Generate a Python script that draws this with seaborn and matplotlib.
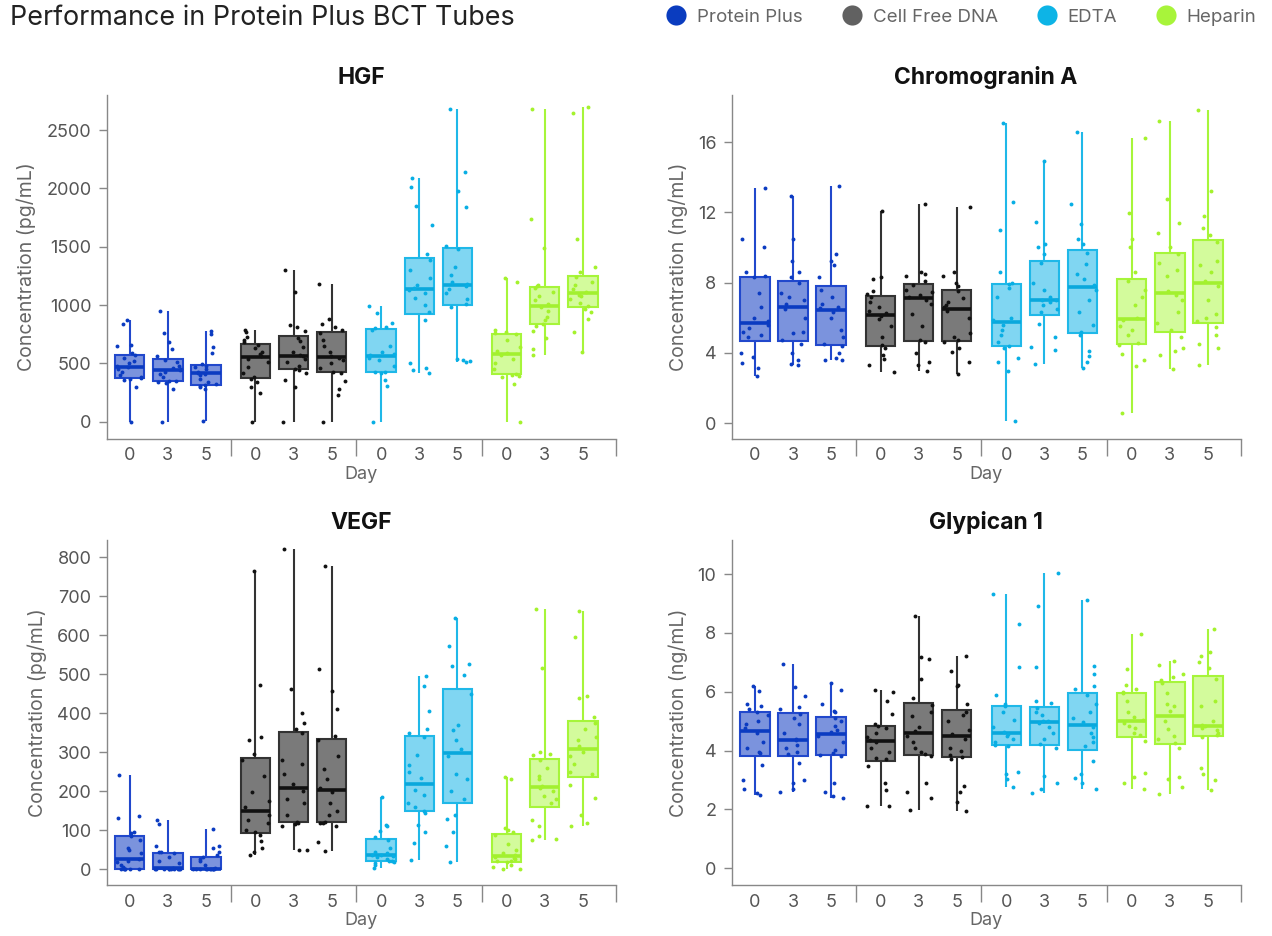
import numpy as np
import pandas as pd
import matplotlib.pyplot as plt
from matplotlib.lines import Line2D
import seaborn as sns

TUBES = ['Protein Plus', 'Cell Free DNA', 'EDTA', 'Heparin']
DAYS = ['0', '3', '5']

# values per tube: one list per day (0, 3, 5)
HGF_PROTEIN_PLUS = [
    [0, 300, 360, 370, 375, 380, 400, 430, 450, 465, 480, 500, 520, 545, 570, 590, 650, 660, 840, 870],
    [0, 280, 330, 340, 345, 348, 380, 410, 430, 440, 448, 460, 480, 510, 530, 560, 620, 680, 760, 950],
    [10, 280, 300, 310, 315, 320, 340, 370, 400, 410, 420, 430, 450, 470, 480, 495, 590, 640, 750, 780],
]
HGF_CELL_FREE = [
    [0, 250, 300, 340, 370, 380, 420, 470, 510, 540, 565, 580, 600, 630, 660, 680, 700, 730, 770, 790],
    [0, 300, 360, 420, 440, 455, 480, 510, 540, 560, 572, 600, 640, 690, 720, 780, 810, 830, 1110, 1300],
    [0, 230, 280, 350, 420, 428, 460, 500, 530, 545, 560, 600, 650, 700, 760, 790, 810, 840, 880, 1180],
]
HGF_EDTA = [
    [0, 310, 360, 420, 425, 430, 480, 530, 550, 560, 572, 580, 600, 650, 790, 805, 810, 850, 930, 990],
    [418, 440, 460, 500, 870, 940, 1000, 1060, 1100, 1130, 1150, 1170, 1230, 1300, 1390, 1440, 1690, 1850, 2010, 2090],
    [509, 520, 530, 540, 980, 1010, 1050, 1100, 1140, 1160, 1178, 1200, 1260, 1330, 1480, 1510, 1840, 1980, 2140, 2678],
]
HGF_HEPARIN = [
    [0, 320, 380, 395, 400, 410, 450, 500, 540, 570, 585, 610, 640, 700, 750, 760, 770, 790, 1200, 1230],
    [571, 620, 720, 780, 820, 840, 870, 900, 950, 980, 1010, 1040, 1080, 1110, 1150, 1160, 1170, 1490, 1740, 2678],
    [600, 770, 880, 940, 970, 990, 1020, 1050, 1080, 1090, 1110, 1140, 1170, 1200, 1240, 1280, 1330, 1570, 2650, 2700],
]

CHGA_PROTEIN_PLUS = [
    [2.65, 3.12, 3.4, 3.75, 3.98, 4.9, 5.0, 5.2, 5.4, 5.6, 5.8, 6.0, 6.6, 7.4, 8.3, 8.4, 8.6, 10.0, 10.5, 13.4],
    [3.3, 3.35, 3.6, 3.98, 4.5, 4.75, 5.1, 5.2, 5.98, 6.5, 6.75, 7.0, 7.2, 7.4, 8.0, 8.3, 8.6, 9.2, 10.46, 12.9],
    [3.56, 3.6, 3.7, 4.0, 4.36, 4.5, 4.9, 5.3, 6.0, 6.3, 6.55, 6.6, 6.8, 7.2, 7.6, 8.3, 9.0, 9.2, 9.6, 13.5],
]
CHGA_CELL_FREE = [
    [2.9, 3.3, 3.67, 3.9, 4.3, 4.42, 4.9, 5.5, 5.9, 6.1, 6.25, 6.4, 6.6, 6.9, 7.2, 7.35, 7.5, 8.2, 8.3, 12.1],
    [2.99, 3.3, 3.5, 4.0, 4.6, 4.72, 5.5, 6.2, 6.8, 7.0, 7.2, 7.3, 7.45, 7.6, 7.85, 8.1, 8.4, 8.5, 8.6, 12.5],
    [2.78, 3.47, 4.06, 4.3, 4.6, 4.72, 4.9, 5.1, 6.0, 6.4, 6.58, 6.7, 6.9, 7.1, 7.5, 7.8, 8.0, 8.4, 8.6, 12.3],
]
CHGA_EDTA = [
    [0.13, 2.95, 3.5, 3.7, 4.3, 4.4, 4.6, 5.0, 5.3, 5.6, 5.85, 6.0, 7.2, 7.7, 7.9, 8.0, 8.6, 10.97, 12.57, 17.1],
    [3.37, 4.13, 4.32, 4.91, 5.64, 6.3, 6.5, 6.7, 6.9, 7.0, 7.03, 7.2, 7.6, 8.0, 9.1, 9.6, 10.0, 10.17, 11.47, 14.9],
    [3.12, 3.47, 3.8, 4.08, 5.0, 5.2, 5.6, 6.3, 7.0, 7.6, 7.85, 8.2, 8.5, 9.03, 9.7, 10.2, 10.5, 11.31, 12.5, 16.55],
]
CHGA_HEPARIN = [
    [0.59, 3.27, 3.6, 3.92, 4.45, 4.53, 5.0, 5.3, 5.54, 5.85, 6.0, 6.74, 7.2, 7.6, 8.1, 8.6, 10.0, 10.46, 11.94, 16.21],
    [3.09, 3.9, 4.1, 4.27, 4.9, 5.27, 5.7, 6.3, 7.0, 7.3, 7.52, 8.36, 8.7, 9.1, 9.6, 10.0, 10.84, 11.41, 12.74, 17.2],
    [3.31, 4.25, 4.5, 5.0, 5.45, 5.8, 6.0, 6.21, 7.0, 7.8, 8.1, 8.6, 9.0, 9.22, 10.3, 10.7, 11.12, 11.77, 13.2, 17.8],
]

VEGF_PROTEIN_PLUS = [
    [0, 0, 0, 0, 0, 0, 5, 10, 18, 22, 26, 40, 48, 55, 75, 85, 92, 95, 130, 137, 242],
    [0, 0, 0, 0, 0, 0, 0, 0, 0, 0, 3, 15, 20, 30, 40, 43, 45, 60, 116, 125],
    [0, 0, 0, 0, 0, 0, 0, 0, 0, 0, 2, 10, 20, 25, 30, 35, 44, 55, 60, 102],
]
VEGF_CELL_FREE = [
    [36, 45, 55, 72, 88, 95, 100, 118, 125, 140, 160, 175, 198, 240, 280, 295, 330, 338, 472, 765],
    [48, 50, 110, 115, 118, 121, 140, 170, 180, 200, 218, 243, 270, 280, 350, 360, 375, 400, 463, 822],
    [47, 70, 110, 117, 118, 120, 140, 150, 170, 198, 208, 230, 256, 290, 330, 342, 410, 458, 513, 777],
]
VEGF_EDTA = [
    [2, 10, 15, 18, 20, 22, 25, 30, 33, 35, 37, 40, 45, 55, 75, 83, 98, 110, 114, 185],
    [23, 68, 95, 113, 145, 150, 160, 169, 190, 203, 233, 250, 267, 292, 340, 350, 360, 406, 469, 496],
    [18, 60, 96, 129, 140, 180, 200, 230, 243, 290, 308, 330, 358, 370, 450, 499, 520, 526, 571, 645],
]
VEGF_HEPARIN = [
    [0, 0, 5, 10, 17, 20, 22, 25, 28, 32, 36, 40, 50, 65, 88, 96, 100, 105, 230, 237],
    [74, 78, 86, 110, 127, 170, 180, 187, 200, 208, 214, 230, 240, 260, 280, 292, 295, 300, 515, 668],
    [111, 117, 138, 183, 215, 243, 250, 270, 290, 300, 316, 330, 340, 360, 375, 390, 440, 443, 596, 662],
]

GPC1_PROTEIN_PLUS = [
    [2.48, 2.55, 2.7, 3.0, 3.51, 3.9, 3.95, 4.1, 4.3, 4.6, 4.75, 4.9, 5.0, 5.2, 5.3, 5.4, 5.5, 5.6, 6.03, 6.21],
    [2.6, 2.7, 2.88, 3.0, 3.59, 3.88, 3.95, 4.08, 4.2, 4.35, 4.4, 4.6, 4.9, 5.1, 5.25, 5.42, 5.48, 5.86, 6.17, 6.93],
    [2.38, 2.45, 2.6, 2.9, 3.8, 3.85, 3.9, 4.03, 4.3, 4.5, 4.63, 4.7, 4.85, 5.0, 5.1, 5.3, 5.34, 5.6, 6.05, 6.31],
]
GPC1_CELL_FREE = [
    [2.11, 2.13, 2.65, 2.89, 3.47, 3.7, 3.75, 3.95, 4.1, 4.3, 4.36, 4.45, 4.6, 4.75, 4.82, 4.9, 5.25, 5.69, 6.0, 6.07],
    [1.97, 2.37, 2.6, 2.88, 3.8, 3.87, 3.95, 4.1, 4.3, 4.5, 4.68, 4.8, 5.18, 5.3, 5.55, 5.8, 6.44, 7.1, 7.17, 8.58],
    [1.96, 2.26, 2.6, 2.81, 3.7, 3.79, 3.85, 4.0, 4.1, 4.4, 4.56, 4.7, 4.99, 5.2, 5.3, 5.6, 6.2, 6.23, 6.7, 7.2],
]
GPC1_EDTA = [
    [2.76, 3.02, 3.2, 3.28, 4.15, 4.2, 4.3, 4.4, 4.5, 4.55, 4.63, 4.8, 5.04, 5.3, 5.5, 5.6, 5.9, 6.84, 8.32, 9.34],
    [2.56, 2.7, 2.9, 3.12, 4.1, 4.22, 4.4, 4.6, 4.8, 4.95, 4.99, 5.0, 5.2, 5.3, 5.45, 5.62, 5.7, 6.84, 8.91, 10.05],
    [2.68, 2.9, 3.05, 3.2, 3.63, 4.17, 4.3, 4.45, 4.6, 4.8, 4.96, 5.1, 5.3, 5.6, 5.9, 6.1, 6.19, 6.6, 6.89, 9.11],
]
GPC1_HEPARIN = [
    [2.68, 2.9, 3.1, 3.25, 4.31, 4.53, 4.6, 4.75, 4.85, 4.95, 5.05, 5.15, 5.3, 5.7, 5.95, 6.0, 6.1, 6.24, 6.76, 7.95],
    [2.51, 2.75, 3.04, 3.1, 4.1, 4.26, 4.4, 4.5, 4.73, 5.0, 5.36, 5.5, 5.6, 5.95, 6.3, 6.4, 6.5, 6.6, 6.9, 7.04],
    [2.65, 3.0, 3.2, 3.42, 4.45, 4.52, 4.6, 4.7, 4.78, 4.82, 4.86, 5.0, 5.5, 5.69, 6.45, 6.8, 7.0, 7.2, 7.35, 8.15],
]

# colours per tube
STYLE = {
    'Protein Plus':  dict(dot='#0b3bc1', edge='#2148cc', fill='#7b93dd', median='#0b3bc1', legend='#0a3cbf'),
    'Cell Free DNA': dict(dot='#111111', edge='#333333', fill='#7a7a7a', median='#111111', legend='#616161'),
    'EDTA':          dict(dot='#08aee4', edge='#1fb8e8', fill='#80d6f2', median='#0aa8dc', legend='#0db4e6'),
    'Heparin':       dict(dot='#a4f22c', edge='#a6f53a', fill='#d3fb9c', median='#a2f030', legend='#a8f43a'),
}

GROUP_STEP = 3.3
XLIM = (-0.61, 12.76)


def make_frame(per_tube):
    rows = []
    for g, tube in enumerate(TUBES):
        for d, day in enumerate(DAYS):
            for v in per_tube[g][d]:
                rows.append({'tube': tube, 'day': day, 'pos': g * GROUP_STEP + d, 'value': v})
    return pd.DataFrame(rows)


def draw_panel(ax, df, title, ylabel, yticks, ylim):
    for tube in TUBES:
        sub = df[df['tube'] == tube]
        st = STYLE[tube]
        sns.boxplot(data=sub, x='pos', y='value', native_scale=True, ax=ax,
                    width=0.77, whis=(0, 100), showfliers=False, showcaps=False,
                    color=st['fill'], linecolor=st['edge'], linewidth=1.5,
                    saturation=1, medianprops=dict(color=st['median'], linewidth=2.6))
        sns.stripplot(data=sub, x='pos', y='value', native_scale=True, ax=ax,
                      color=st['dot'], size=2.8, jitter=0.36, linewidth=0, zorder=3)

    centers = [g * GROUP_STEP + d for g in range(len(TUBES)) for d in range(len(DAYS))]
    seps = [g * GROUP_STEP + 2.65 for g in range(len(TUBES) - 1)] + [XLIM[1]]
    ax.set_xlim(*XLIM)
    ax.set_xticks(centers)
    ax.set_xticklabels(DAYS * len(TUBES))
    ax.set_xticks(seps, minor=True)
    ax.tick_params(axis='x', which='both', bottom=True)
    ax.tick_params(axis='x', which='major', length=0, pad=6, labelsize=13, labelcolor='#555555')
    ax.tick_params(axis='x', which='minor', length=12, width=1, color='#888888')

    ax.set_ylim(*ylim)
    ax.set_yticks(yticks)
    ax.tick_params(axis='y', left=True, length=6, width=1, color='#888888', pad=5,
                   labelsize=13, labelcolor='#555555')

    for side in ['top', 'right']:
        ax.spines[side].set_visible(False)
    for side in ['left', 'bottom']:
        ax.spines[side].set_color('#888888')
        ax.spines[side].set_linewidth(1)

    ax.set_title(title, fontsize=16.5, fontweight='bold', pad=8, color='#111111')
    ax.set_xlabel('Day', fontsize=13, color='#666666', labelpad=1)
    ax.set_ylabel(ylabel, fontsize=14, color='#666666', labelpad=7)


def main():
    sns.set_style('white')
    plt.rcParams['font.family'] = ['Inter', 'DejaVu Sans']
    np.random.seed(3)

    fig = plt.figure(figsize=(12.72, 9.36), dpi=100)
    ax_hgf = fig.add_axes([0.0838, 0.531, 0.4002, 0.3675])
    ax_chga = fig.add_axes([0.5752, 0.531, 0.4002, 0.3675])
    ax_vegf = fig.add_axes([0.0838, 0.054, 0.4002, 0.369])
    ax_gpc1 = fig.add_axes([0.5752, 0.054, 0.4002, 0.369])

    draw_panel(ax_hgf, make_frame([HGF_PROTEIN_PLUS, HGF_CELL_FREE, HGF_EDTA, HGF_HEPARIN]),
               'HGF', 'Concentration (pg/mL)', [0, 500, 1000, 1500, 2000, 2500], (-148, 2800))
    draw_panel(ax_chga, make_frame([CHGA_PROTEIN_PLUS, CHGA_CELL_FREE, CHGA_EDTA, CHGA_HEPARIN]),
               'Chromogranin A', 'Concentration (ng/mL)', [0, 4, 8, 12, 16], (-0.91, 18.68))
    draw_panel(ax_vegf, make_frame([VEGF_PROTEIN_PLUS, VEGF_CELL_FREE, VEGF_EDTA, VEGF_HEPARIN]),
               'VEGF', 'Concentration (pg/mL)', list(range(0, 900, 100)), (-42, 844))
    draw_panel(ax_gpc1, make_frame([GPC1_PROTEIN_PLUS, GPC1_CELL_FREE, GPC1_EDTA, GPC1_HEPARIN]),
               'Glypican 1', 'Concentration (ng/mL)', [0, 2, 4, 6, 8, 10], (-0.59, 11.16))

    fig.text(10 / 1272, 1 - 18 / 936, 'Performance in Protein Plus BCT Tubes',
             fontsize=19.4, color='#222222', ha='left', va='center')

    handles = [Line2D([], [], marker='o', linestyle='', markersize=14.5,
                      markerfacecolor=STYLE[t]['legend'], markeredgewidth=0) for t in TUBES]
    fig.legend(handles, TUBES, loc='center right', bbox_to_anchor=(1264 / 1272, 1 - 17 / 936),
               ncol=4, frameon=False, fontsize=13.5, labelcolor='#666666',
               handlelength=1.0, handletextpad=0.62, columnspacing=2.1, borderaxespad=0)

    fig.savefig('out.png', dpi=100)
    plt.close(fig)


if __name__ == '__main__':
    main()
